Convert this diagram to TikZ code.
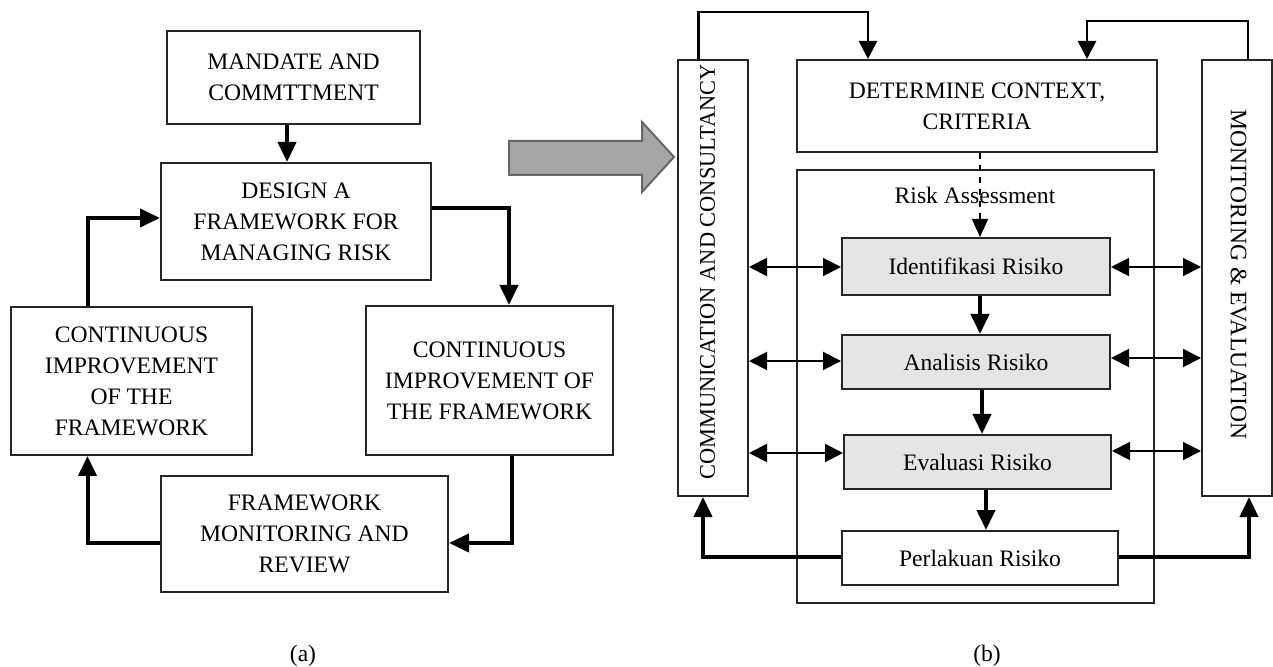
\documentclass[tikz,border=0pt]{standalone}
\usepackage{fontspec}
\setmainfont{Liberation Serif}
\usetikzlibrary{arrows.meta,calc}
\begin{document}
\begin{tikzpicture}[x=0.5pt,y=-0.5pt,
  txt/.style={font=\fontsize{11.8}{15.5}\selectfont, align=center, inner sep=0pt},
  box/.style={txt, draw=black!85, line width=1pt, fill=white},
  gbox/.style={box, fill=black!10},
  thinbox/.style={draw=black!85, line width=0.8pt, inner sep=0pt},
  arr/.style={line width=2pt, -{Triangle[length=10pt,width=9pt]}},
  farr/.style={line width=1.4pt, -{Triangle[length=9pt,width=9pt]}},
  darr/.style={line width=1pt, {Triangle[length=9pt,width=9pt]}-{Triangle[length=9pt,width=9pt]}},
  dasharr/.style={line width=0.8pt, dashed, -{Triangle[length=9pt,width=8pt]}},
]
\useasboundingbox (0,0) rectangle (1273,667);

% ---------- (a) ----------
\node[box, minimum width=126.5pt, minimum height=46.5pt] (mandate) at (293.5,77.5) {MANDATE AND\\COMMTTMENT};
\node[box, minimum width=135pt, minimum height=58.5pt] (design) at (296,221.5) {DESIGN A\\FRAMEWORK FOR\\MANAGING RISK};
\node[box, minimum width=120.5pt, minimum height=74pt] (cileft) at (131.5,381) {CONTINUOUS\\IMPROVEMENT\\OF THE\\FRAMEWORK};
\node[box, minimum width=123.5pt, minimum height=74.5pt] (ciright) at (489.5,380.5) {CONTINUOUS\\IMPROVEMENT OF\\THE FRAMEWORK};
\node[box, minimum width=143.5pt, minimum height=58pt] (fmr) at (304.5,534) {FRAMEWORK\\MONITORING AND\\REVIEW};

\coordinate (m1) at ($(mandate.south)+(-6.5,0)$);
\coordinate (c1) at ($(ciright.north)+(19.5,0)$);
\coordinate (c2) at ($(ciright.south)+(22.5,0)$);
\coordinate (c3) at ($(cileft.south)+(-44,0)$);
\coordinate (c4) at ($(cileft.north)+(-43.5,0)$);

\draw[arr] (m1) -- (m1 |- design.north);
\draw[arr] (design.east |- 0,208) -| (c1);
\draw[arr] (c2) |- (fmr.east |- 0,543);
\draw[arr] (fmr.west |- 0,543) -| (c3);
\draw[arr] (c4) |- (design.west |- 0,218);

\node[txt] (la) at (303,656) {(a)};

% ---------- big arrow ----------
\draw[draw=black!60, line width=1pt, fill=black!35]
  (509,141) -- (642,141) -- (642,122) -- (674,157) -- (642,192) -- (642,175) -- (509,175) -- cycle;

% ---------- (b) ----------
\node[box, minimum width=35pt, minimum height=218pt] (comm) at (713,278) {};
\node[txt, rotate=90, font=\fontsize{11.2}{14}\selectfont] (commtext) at (707.5,272) {COMMUNICATION AND CONSULTANCY};
\node[box, minimum width=35pt, minimum height=218pt] (mon) at (1237,278) {};
\node[txt, rotate=-90] (montext) at (1238.5,274.5) {MONITORING \& EVALUATION};

\node[box, minimum width=180pt, minimum height=46pt] (determine) at (977,106) {DETERMINE CONTEXT,\\CRITERIA};
\node[thinbox, minimum width=178.5pt, minimum height=216.5pt] (ra) at (975.5,386.5) {};
\node[txt] (ratext) at (975,195) {Risk Assessment};

\node[gbox, minimum width=134pt, minimum height=28.5pt] (iden) at (976,266.5) {Identifikasi Risiko};
\node[gbox, minimum width=134pt, minimum height=27pt] (anal) at (976,362) {Analisis Risiko};
\node[gbox, minimum width=133.5pt, minimum height=27pt] (eval) at (977.5,462) {Evaluasi Risiko};
\node[box, minimum width=138pt, minimum height=27pt] (perl) at (980,558) {Perlakuan Risiko};

\coordinate (t1) at ($(comm.north)+(-14.5,0)$);
\coordinate (t2) at ($(determine.north)+(-109,0)$);
\coordinate (t3) at ($(mon.north)+(11,0)$);
\coordinate (t4) at ($(determine.north)+(110,0)$);
\coordinate (d1) at ($(determine.south)+(3,0)$);
\coordinate (f1) at ($(iden.south)+(4,0)$);
\coordinate (f2) at ($(anal.south)+(6,0)$);
\coordinate (f3) at ($(eval.south)+(8.5,0)$);
\coordinate (b1) at ($(comm.south)+(-10,0)$);
\coordinate (b2) at ($(mon.south)+(12,0)$);

% feedback arrows top
\draw[farr] (t1) -- (t1 |- 0,12) -| (t2);
\draw[farr] (t3) -- (t3 |- 0,21) -| (t4);

% dashed
\draw[dasharr] (d1) -- (d1 |- iden.north);

% flow
\draw[arr] (f1) -- (f1 |- anal.north);
\draw[arr] (f2) -- (f2 |- eval.north);
\draw[arr] (f3) -- (f3 |- perl.north);

% double arrows
\draw[darr] (comm.east |- 0,267) -- (iden.west |- 0,267);
\draw[darr] (comm.east |- 0,361) -- (anal.west |- 0,361);
\draw[darr] (comm.east |- 0,453) -- (eval.west |- 0,453);
\draw[darr] (iden.east |- 0,267) -- (mon.west |- 0,267);
\draw[darr] (anal.east |- 0,358) -- (mon.west |- 0,358);
\draw[darr] (eval.east |- 0,451) -- (mon.west |- 0,451);

% bottom feedback
\draw[arr] (perl.west |- 0,557) -| (b1);
\draw[arr] (perl.east |- 0,557) -| (b2);

\node[txt] (lb) at (987,656) {(b)};
\end{tikzpicture}
\end{document}
